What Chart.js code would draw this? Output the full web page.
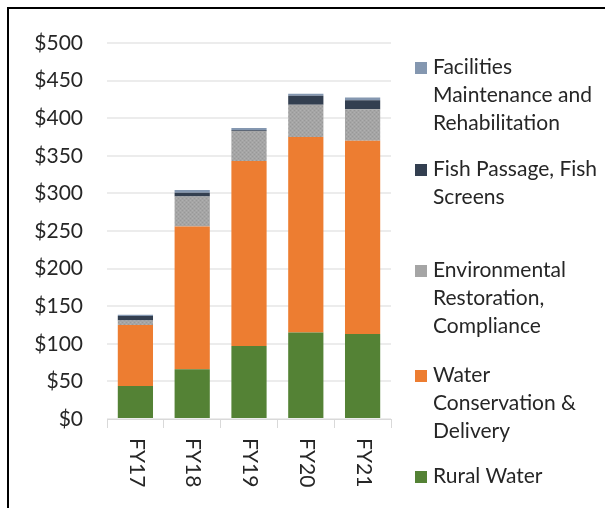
<!DOCTYPE html>
<html>
<head>
<meta charset="utf-8">
<script src="https://cdn.jsdelivr.net/npm/chart.js@4"></script>
<style>
  html, body { margin: 0; padding: 0; background: #fff; }
  #wrap { position: relative; width: 605px; height: 508px; overflow: hidden; }
  #c { position: absolute; left: 0; top: 0; }
  #frame { position: absolute; left: 7px; top: 7px; width: 640px; height: 540px;
           border-top: 2px solid #000; border-left: 2px solid #000; }
  .lg { position: absolute; left: 415px; font-family: Lato, "Liberation Sans", sans-serif;
        font-size: 21px; line-height: 28px; color: #262626; }
  .lg .sw { position: absolute; left: 0; width: 12px; height: 12px; }
  .lg .tx { position: absolute; left: 18px; top: 0; white-space: nowrap; }
</style>
</head>
<body>
<div id="wrap">
  <div id="frame"></div>
  <canvas id="c" width="605" height="508"></canvas>
</div>
<script>
// ---- data ----
const categories = ["FY17", "FY18", "FY19", "FY20", "FY21"];
const ruralWater = [44, 66, 97, 115, 113];
const waterConservation = [81, 190, 246, 260, 257];
const environmentalRestoration = [6, 40, 40, 43, 42];
const fishPassage = [6, 5, 1, 12, 12];
const facilitiesMaintenance = [1.5, 3.5, 3, 2.5, 3.5];
const yTicks = [0, 50, 100, 150, 200, 250, 300, 350, 400, 450, 500];

const seriesNames = [
  ["Rural Water"],
  ["Water", "Conservation &", "Delivery"],
  ["Environmental", "Restoration,", "Compliance"],
  ["Fish Passage, Fish", "Screens"],
  ["Facilities", "Maintenance and", "Rehabilitation"]
];
const seriesValues = [ruralWater, waterConservation, environmentalRestoration, fishPassage, facilitiesMaintenance];

// ---- styles ----
const colors = ["#548235", "#ED7D31", "#A5A5A5", "#333F50", "#8497B0"];
const legendBaselines = [483, 382, 277, 176, 74]; // per series (same order as seriesNames)
const FONT = 'Lato, "Liberation Sans", sans-serif';
const TEXT = '#262626';

// speckled texture for the gray series (as in the reference)
function speckle(base) {
  const pc = document.createElement('canvas');
  pc.width = 4; pc.height = 4;
  const g = pc.getContext('2d');
  g.fillStyle = base; g.fillRect(0, 0, 4, 4);
  g.fillStyle = '#989898';
  g.fillRect(0, 0, 1, 1); g.fillRect(2, 2, 1, 1);
  g.fillStyle = '#b0b0b0';
  g.fillRect(2, 0, 1, 1); g.fillRect(0, 2, 1, 1);
  return g.createPattern(pc, 'repeat');
}

const datasets = seriesValues.map((vals, i) => ({
  label: seriesNames[i].join(' '),
  data: vals,
  backgroundColor: i === 2 ? speckle(colors[i]) : colors[i],
  borderWidth: 0,
  barPercentage: 0.62,
  categoryPercentage: 1.0
}));

const xLabelPlugin = {
  id: 'xLabels',
  afterDraw(chart) {
    const ctx = chart.ctx;
    const xs = chart.scales.x;
    ctx.save();
    ctx.font = '21px ' + FONT;
    ctx.fillStyle = TEXT;
    ctx.textAlign = 'left';
    ctx.textBaseline = 'middle';
    categories.forEach((lab, i) => {
      const px = xs.getPixelForValue(i);
      ctx.save();
      ctx.translate(px + 1, xs.top + 19);
      ctx.rotate(Math.PI / 2);
      ctx.fillText(lab, 0, 0);
      ctx.restore();
    });
    ctx.restore();
  }
};

new Chart(document.getElementById('c'), {
  type: 'bar',
  data: { labels: categories, datasets },
  options: {
    responsive: false,
    animation: false,
    devicePixelRatio: 1,
    layout: { padding: { left: 0, top: 43, right: 214, bottom: 0 } },
    plugins: { legend: { display: false }, tooltip: { enabled: false } },
    scales: {
      x: {
        stacked: true,
        afterFit: s => { s.height = 89; },
        ticks: { display: false },
        grid: { offset: true, drawOnChartArea: false, drawTicks: true, tickLength: 9, color: '#d9d9d9', lineWidth: 1 },
        border: { display: true, color: '#d9d9d9', width: 1 }
      },
      y: {
        stacked: true,
        min: 0, max: 500,
        afterFit: s => { s.width = 107; },
        afterBuildTicks: s => { s.ticks = yTicks.map(v => ({ value: v })); },
        ticks: {
          padding: 24,
          color: TEXT,
          font: { family: FONT, size: 21 },
          callback: v => '$' + v
        },
        grid: { drawTicks: false, color: '#ececec', lineWidth: 2 },
        border: { display: false }
      }
    }
  },
  plugins: [xLabelPlugin]
});

// ---- HTML legend ----
const wrap = document.getElementById('wrap');
for (let k = seriesNames.length - 1; k >= 0; k--) {
  const d = document.createElement('div');
  d.className = 'lg';
  d.style.top = (legendBaselines[k] - 22) + 'px';
  const sw = document.createElement('div');
  sw.className = 'sw';
  sw.style.background = colors[k];
  sw.style.top = (22 - 12) + 'px';
  const tx = document.createElement('div');
  tx.className = 'tx';
  tx.innerHTML = seriesNames[k].map(s => s.replace(/&/g, '&amp;')).join('<br>');
  d.appendChild(sw);
  d.appendChild(tx);
  wrap.appendChild(d);
}
</script>
</body>
</html>
